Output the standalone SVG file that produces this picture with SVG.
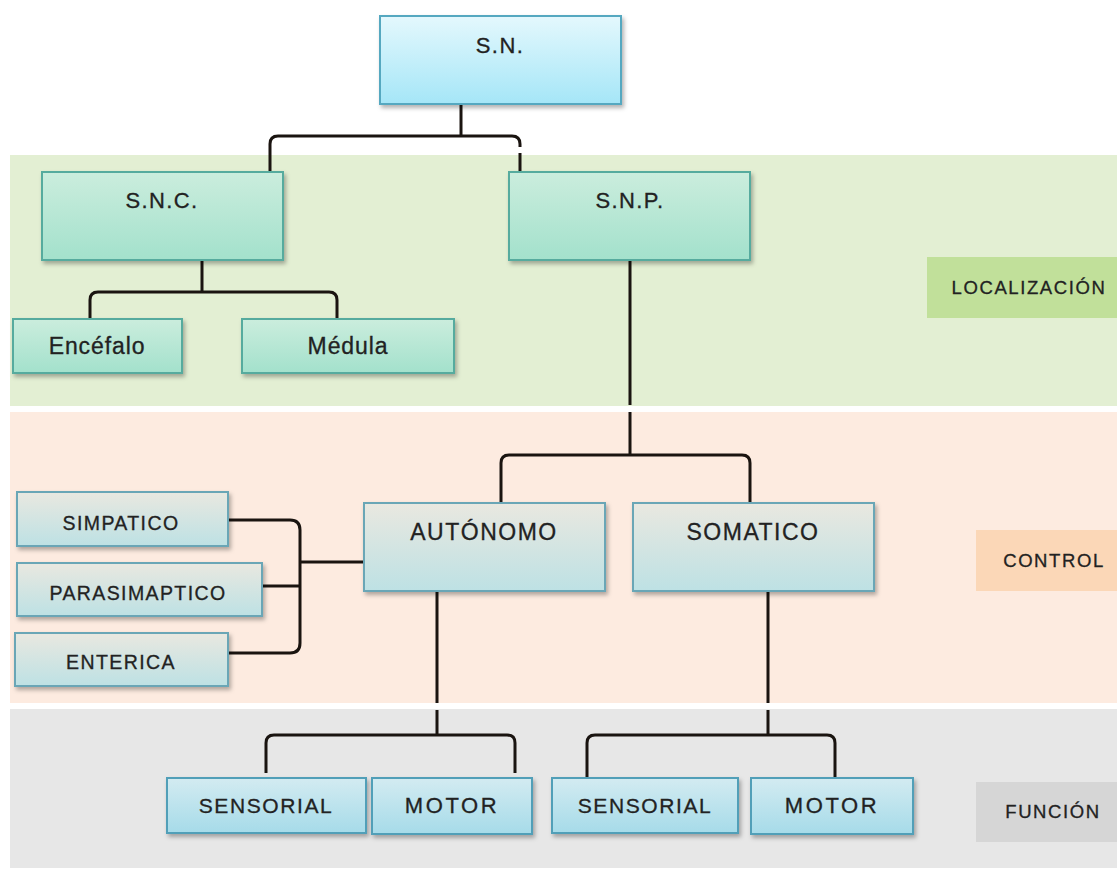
<svg xmlns="http://www.w3.org/2000/svg" width="1117" height="870" viewBox="0 0 1117 870">
<defs>
<linearGradient id="gTop" x1="0" y1="0" x2="0" y2="1"><stop offset="0" stop-color="#e4f8fd"/><stop offset="1" stop-color="#a5e6f7"/></linearGradient>
<linearGradient id="gGreen" x1="0" y1="0" x2="0" y2="1"><stop offset="0" stop-color="#cbeddd"/><stop offset="1" stop-color="#a3e1cc"/></linearGradient>
<linearGradient id="gCtrl" x1="0" y1="0" x2="0" y2="1"><stop offset="0" stop-color="#e9e8e0"/><stop offset="1" stop-color="#bde1e4"/></linearGradient>
<linearGradient id="gFunc" x1="0" y1="0" x2="0" y2="1"><stop offset="0" stop-color="#d3ebf1"/><stop offset="1" stop-color="#a6dbe9"/></linearGradient>
<filter id="sh" x="-10%" y="-10%" width="125%" height="140%"><feDropShadow dx="2" dy="3" stdDeviation="2" flood-color="#000" flood-opacity="0.3"/></filter>
</defs>
<style>
.n{filter:url(#sh);stroke-width:2}
.top{fill:url(#gTop);stroke:#55a8c0}
.grn{fill:url(#gGreen);stroke:#57ab9e}
.ctl{fill:url(#gCtrl);stroke:#6aa6b6}
.fn{fill:url(#gFunc);stroke:#519fb8}
text{font-family:"Liberation Sans",Arial,sans-serif;fill:#222;stroke:#222;stroke-width:0.3px;text-anchor:middle}
.t22{font-size:22px;letter-spacing:1.4px}
.t23{font-size:23px;letter-spacing:0.9px}
.t19{font-size:19.5px;letter-spacing:1.4px}
.t23c{font-size:23px;letter-spacing:1.5px}
.t21{font-size:21px;letter-spacing:1.6px}
.mot{font-size:22px;letter-spacing:2.6px}
.lbl{font-size:18.5px;letter-spacing:1.6px}
.c{fill:none;stroke:#1a1410;stroke-width:3}
</style>
<g id="bands">
<rect x="10" y="155" width="1107" height="251" fill="#e3efd3"/>
<rect x="10" y="412" width="1107" height="291" fill="#fdebe0"/>
<rect x="10" y="709" width="1107" height="159" fill="#e7e7e7"/>
</g>
<g id="label-localizacion"><rect x="927" y="257" width="190" height="61" fill="#c1e09a"/><text class="lbl" x="1029" y="294">LOCALIZACIÓN</text></g>
<g id="label-control"><rect x="976" y="530" width="141" height="61" fill="#fbd7b7"/><text class="lbl" x="1054" y="567">CONTROL</text></g>
<g id="label-funcion"><rect x="976" y="782" width="141" height="60" fill="#d6d6d6"/><text class="lbl" x="1053" y="818">FUNCIÓN</text></g>
<g id="connectors">
<path class="c" d="M461,104 V136"/>
<path class="c" d="M270,172 V144 Q270,136 278,136 H512 Q520,136 520,144 V147 M520,153 V172"/>
<path class="c" d="M202,260 V292"/>
<path class="c" d="M90,319 V300 Q90,292 98,292 H329 Q337,292 337,300 V319"/>
<path class="c" d="M630,260 V405 M630,412 V455"/>
<path class="c" d="M501,503 V463 Q501,455 509,455 H742 Q750,455 750,463 V503"/>
<path class="c" d="M228,520 H290 Q300,520 300,530 V643 Q300,653 290,653 H228"/>
<path class="c" d="M262,586 H300 M300,562 H364"/>
<path class="c" d="M437,591 V703 M437,710 V735"/>
<path class="c" d="M266,773 V743 Q266,735 274,735 H507 Q515,735 515,743 V773"/>
<path class="c" d="M768,591 V703 M768,710 V735"/>
<path class="c" d="M587,778 V743 Q587,735 595,735 H827 Q835,735 835,743 V778"/>
</g>
<g id="sn"><rect class="n top" x="380" y="16" width="241" height="88"/><text class="t22" x="500" y="53">S.N.</text></g>
<g id="snc"><rect class="n grn" x="42" y="172" width="241" height="88"/><text class="t22" x="162" y="208">S.N.C.</text></g>
<g id="snp"><rect class="n grn" x="509" y="172" width="241" height="88"/><text class="t22" x="630" y="208">S.N.P.</text></g>
<g id="encefalo"><rect class="n grn" x="13" y="319" width="169" height="54"/><text class="t23" x="97" y="354">Encéfalo</text></g>
<g id="medula"><rect class="n grn" x="242" y="319" width="212" height="54"/><text class="t23" x="348" y="354">Médula</text></g>
<g id="autonomo"><rect class="n ctl" x="364" y="503" width="241" height="88"/><text class="t23c" x="484" y="540">AUTÓNOMO</text></g>
<g id="somatico"><rect class="n ctl" x="633" y="503" width="241" height="88"/><text class="t23c" x="753" y="540">SOMATICO</text></g>
<g id="simpatico"><rect class="n ctl" x="17" y="492" width="211" height="54"/><text class="t19" x="121" y="530">SIMPATICO</text></g>
<g id="parasimaptico"><rect class="n ctl" x="17" y="563" width="245" height="53"/><text class="t19" x="138" y="600">PARASIMAPTICO</text></g>
<g id="enterica"><rect class="n ctl" x="15" y="633" width="213" height="53"/><text class="t19" x="121" y="669">ENTERICA</text></g>
<g id="sensorial1"><rect class="n fn" x="167" y="778" width="199" height="55"/><text class="t21" x="266" y="813">SENSORIAL</text></g>
<g id="motor1"><rect class="n fn" x="372" y="778" width="160" height="56"/><text class="mot" x="452" y="813">MOTOR</text></g>
<g id="sensorial2"><rect class="n fn" x="552" y="778" width="186" height="55"/><text class="t21" x="645" y="813">SENSORIAL</text></g>
<g id="motor2"><rect class="n fn" x="751" y="778" width="162" height="56"/><text class="mot" x="832" y="813">MOTOR</text></g>
</svg>
